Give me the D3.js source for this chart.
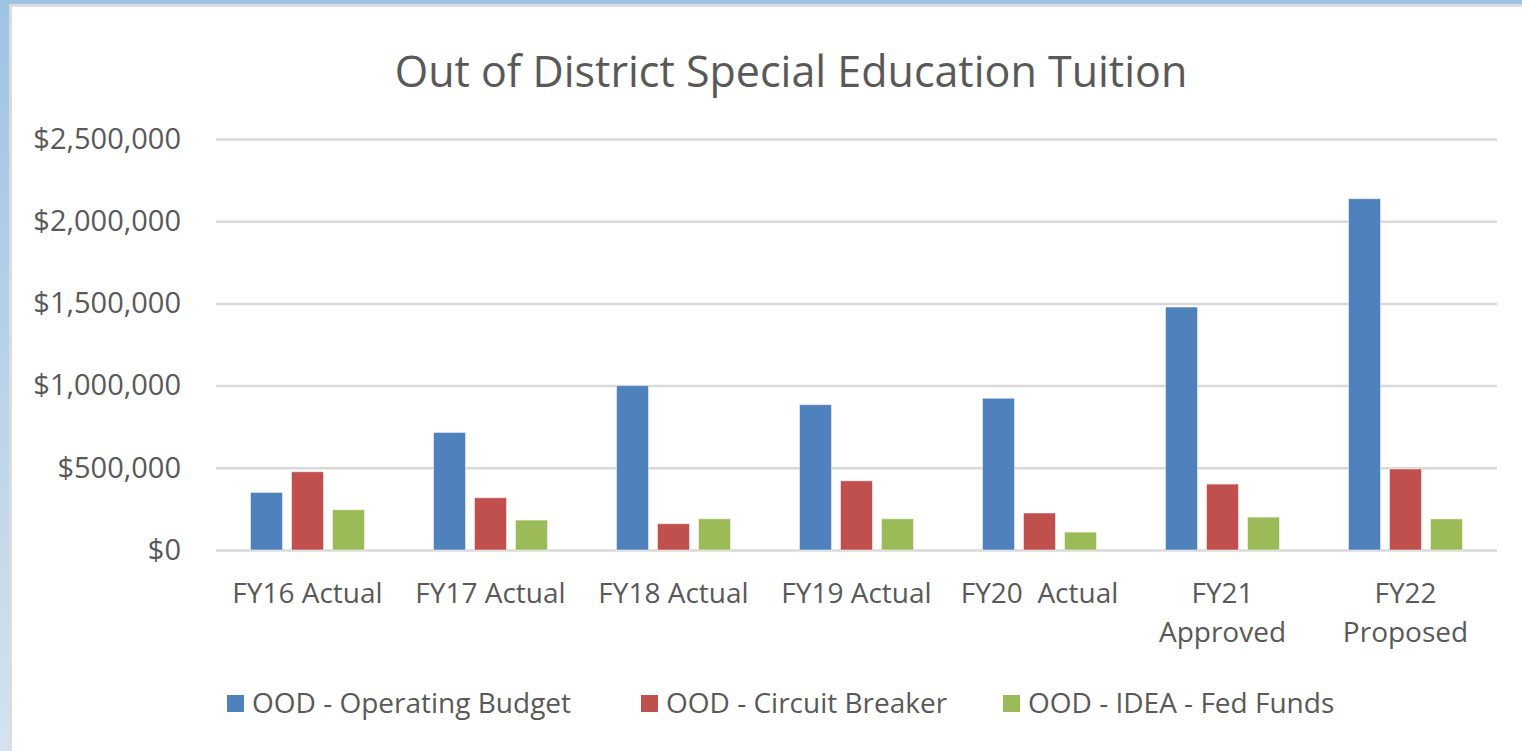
<!DOCTYPE html>
<html>
<head>
<meta charset="utf-8">
<script src="https://cdn.jsdelivr.net/npm/d3@7"></script>
<style>
  html, body { margin: 0; padding: 0; background: #fff; }
  svg { display: block; }
  text { font-family: "Open Sans", sans-serif; fill: #595959; white-space: pre; }
</style>
</head>
<body>
<div id="chart"></div>
<script>
// data
const categories = ["FY16 Actual", "FY17 Actual", "FY18 Actual", "FY19 Actual", "FY20  Actual", "FY21 Approved", "FY22 Proposed"];
const seriesNames = ["OOD - Operating Budget", "OOD - Circuit Breaker", "OOD - IDEA - Fed Funds"];
const operatingBudget = [350000, 715000, 1000000, 884000, 923000, 1478000, 2137000];
const circuitBreaker = [476000, 318000, 160000, 421000, 225000, 401000, 493000];
const ideaFedFunds = [245000, 182000, 190000, 190000, 109000, 200000, 189000];
const yTicks = [0, 500000, 1000000, 1500000, 2000000, 2500000];
const colors = ["#4f81bd", "#c0504d", "#9bbb59"];

const W = 1522, H = 751;
const margin = {top: 139, right: 25, bottom: 201, left: 216};
const width = W - margin.left - margin.right,
      height = H - margin.top - margin.bottom;

const series = [operatingBudget, circuitBreaker, ideaFedFunds];

const svg = d3.select("#chart").append("svg")
    .attr("width", W)
    .attr("height", H);

// window frame
const defs = svg.append("defs");
const grad = defs.append("linearGradient")
    .attr("id", "frameGrad")
    .attr("x1", 0).attr("y1", 0).attr("x2", 0).attr("y2", 1);
grad.append("stop").attr("offset", "0%").attr("stop-color", "#9dc3e4");
grad.append("stop").attr("offset", "100%").attr("stop-color", "#d3e2ee");

svg.append("rect").attr("x", 0).attr("y", 0).attr("width", 9).attr("height", H).attr("fill", "url(#frameGrad)");
svg.append("rect").attr("x", 0).attr("y", 0).attr("width", W).attr("height", 4).attr("fill", "#9dc3e4");
svg.append("rect").attr("x", 9).attr("y", 4).attr("width", W - 9).attr("height", 3).attr("fill", "#dcdcdc");
svg.append("rect").attr("x", 9).attr("y", 4).attr("width", 3).attr("height", H - 4).attr("fill", "#dcdcdc");

// title
svg.append("text")
    .attr("x", 791)
    .attr("y", 87)
    .attr("text-anchor", "middle")
    .attr("font-size", 43)
    .text("Out of District Special Education Tuition");

const g = svg.append("g")
    .attr("transform", "translate(" + margin.left + "," + margin.top + ")");

const x = d3.scaleBand()
    .domain(categories)
    .range([0, width]);

const y = d3.scaleLinear()
    .domain([0, 2500000])
    .range([height, 0]);

// grid + y labels
const yAxis = g.append("g")
    .call(d3.axisLeft(y)
        .tickValues(yTicks)
        .tickFormat(d3.format("$,"))
        .tickSize(-width)
        .tickPadding(35));
yAxis.select(".domain").remove();
yAxis.selectAll(".tick line")
    .attr("stroke", "#d9d9d9")
    .attr("stroke-width", 2.5);
yAxis.selectAll(".tick text")
    .attr("font-size", 29)
    .attr("fill", "#595959")
    .attr("font-family", "Open Sans, sans-serif");

// bars
const barW = x.bandwidth() * 0.175,
      barStep = x.bandwidth() * 0.224;

series.forEach(function(vals, si) {
    g.selectAll(".bar" + si)
        .data(vals)
        .enter().append("rect")
        .attr("class", "bar" + si)
        .attr("x", function(d, i) {
            return x(categories[i]) + x.bandwidth() / 2 + (si - 1) * barStep - barW / 2;
        })
        .attr("y", function(d) { return y(d); })
        .attr("width", barW)
        .attr("height", function(d) { return height - y(d); })
        .attr("fill", colors[si])
        .attr("stroke", "#ffffff")
        .attr("stroke-opacity", 0.5)
        .attr("stroke-width", 1);
});

// category labels
const xLabels = g.append("g")
    .attr("transform", "translate(0," + height + ")");

categories.forEach(function(c) {
    const t = xLabels.append("text")
        .attr("x", x(c) + x.bandwidth() / 2)
        .attr("y", 53)
        .attr("text-anchor", "middle")
        .attr("font-size", 28)
        .text(c);
    if (t.node().getComputedTextLength() > 178) {
        const words = c.split(/\s+/);
        t.text(null);
        words.forEach(function(w, k) {
            t.append("tspan")
                .attr("x", x(c) + x.bandwidth() / 2)
                .attr("y", 53 + k * 39)
                .text(w);
        });
    }
});

// legend
const legendX = [227, 641, 1003];
const legend = svg.append("g");
seriesNames.forEach(function(s, i) {
    const lg = legend.append("g")
        .attr("transform", "translate(" + legendX[i] + ",703)");
    lg.append("rect")
        .attr("x", 0).attr("y", -8)
        .attr("width", 17).attr("height", 17)
        .attr("fill", colors[i]);
    lg.append("text")
        .attr("x", 25)
        .attr("y", 0)
        .attr("dy", "0.35em")
        .attr("font-size", 28)
        .text(s);
});
</script>
</body>
</html>
